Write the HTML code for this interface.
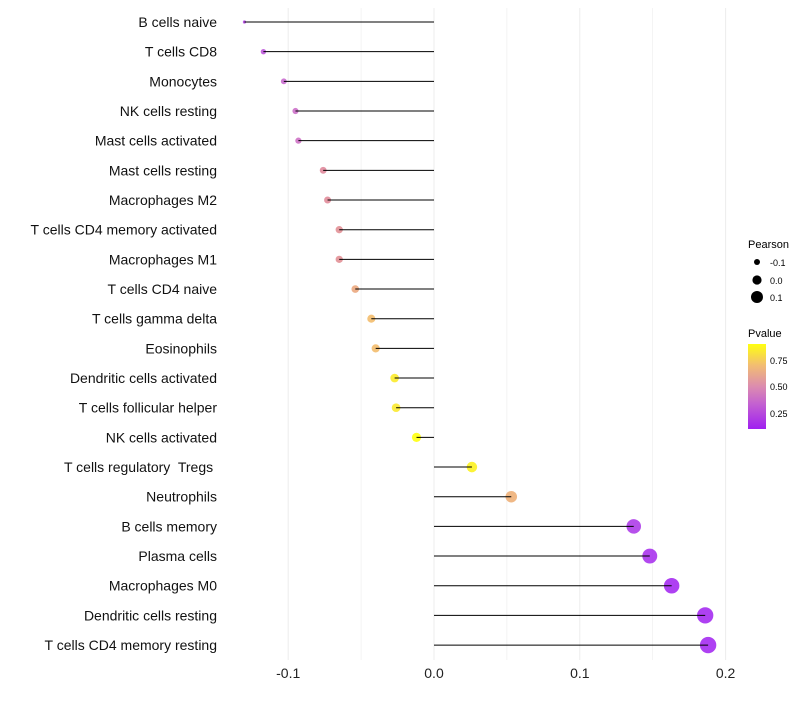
<!DOCTYPE html>
<html><head><meta charset="utf-8"><style>
body{margin:0;background:#fff;font-family:"Liberation Sans",sans-serif}
text{white-space:pre}
</style></head><body>
<svg id="chart" width="800" height="700" xmlns="http://www.w3.org/2000/svg">
<defs><linearGradient id="pg" x1="0" y1="1" x2="0" y2="0">
<stop offset="0" stop-color="#a020f0"/><stop offset="0.3" stop-color="#c462d0"/><stop offset="0.5" stop-color="#dc8caf"/><stop offset="0.75" stop-color="#f2bd72"/><stop offset="1" stop-color="#ffff10"/>
</linearGradient></defs>
<g id="grid"></g><g id="dots"></g><g id="marks"></g><g id="labels"></g>
<g font-size="10" fill="#000">
<text x="748" y="248" font-size="11">Pearson</text>
<circle cx="757" cy="262" r="3"/><text x="770" y="266" font-size="9">-0.1</text>
<circle cx="757" cy="280" r="4.6"/><text x="770" y="284" font-size="9">0.0</text>
<circle cx="757" cy="297" r="6"/><text x="770" y="301" font-size="9">0.1</text>
</g>
<g>
<text x="748" y="337" font-size="11">Pvalue</text>
<rect x="748" y="344" width="18" height="85" fill="url(#pg)"/>
<text x="770" y="364" font-size="9">0.75</text>
<text x="770" y="390" font-size="9">0.50</text>
<text x="770" y="417" font-size="9">0.25</text>
</g>
</svg>
<script>
const categories=["B cells naive","T cells CD8","Monocytes","NK cells resting","Mast cells activated","Mast cells resting","Macrophages M2","T cells CD4 memory activated","Macrophages M1","T cells CD4 naive","T cells gamma delta","Eosinophils","Dendritic cells activated","T cells follicular helper","NK cells activated","T cells regulatory  Tregs ","Neutrophils","B cells memory","Plasma cells","Macrophages M0","Dendritic cells resting","T cells CD4 memory resting"];
const pearson=[-0.130,-0.117,-0.103,-0.095,-0.093,-0.076,-0.073,-0.065,-0.065,-0.054,-0.043,-0.040,-0.027,-0.026,-0.012,0.026,0.053,0.137,0.148,0.163,0.186,0.188];
const pvalues=[0.2,0.27,0.35,0.37,0.38,0.5,0.51,0.53,0.53,0.62,0.7,0.7,0.84,0.83,0.92,0.86,0.65,0.16,0.13,0.1,0.06,0.05];
const xticks=[-0.1,0.0,0.1,0.2];
const NS="http://www.w3.org/2000/svg";
const x=v=>434+v*1458;
const y=i=>22+i*29.67;
const r=v=>v<-0.125?1.6:4.8+18*v;
const stops=[[0.1,[160,32,240]],[0.34,[196,98,208]],[0.5,[222,130,150]],[0.7,[242,185,100]],[0.9,[255,255,0]]];
function col(p){if(p<=stops[0][0])return "rgb("+stops[0][1]+")";for(let k=1;k<stops.length;k++){if(p<=stops[k][0]){const a=stops[k-1],b=stops[k],t=(p-a[0])/(b[0]-a[0]);return "rgb("+a[1].map((c,j)=>Math.round(c+(b[1][j]-c)*t)).join(",")+")";}}return "rgb("+stops[stops.length-1][1]+")";}
function mk(t,a,p){const e=document.createElementNS(NS,t);for(const k in a)e.setAttribute(k,a[k]);p.appendChild(e);return e;}
const grid=document.getElementById('grid'),marks=document.getElementById('marks'),dots=document.getElementById('dots'),labels=document.getElementById('labels');
for(let v=-0.1;v<=0.2001;v+=0.05){const g=mk('line',{x1:x(v),x2:x(v),y1:8,y2:660,stroke:'#ececec','stroke-width':Math.abs(Math.round(v*20))%2===0?1:0.6},grid);}
xticks.forEach(t=>{const e=mk('text',{x:x(t),y:678,'text-anchor':'middle','font-size':14,fill:'#222'},labels);e.textContent=t.toFixed(1);

});
categories.forEach((c,i)=>{
const d=mk('circle',{cx:x(pearson[i]),cy:y(i),r:r(pearson[i]),fill:col(pvalues[i]),'fill-opacity':0.85},dots);


const l=mk('line',{x1:x(0),x2:x(pearson[i]),y1:y(i),y2:y(i),stroke:'#000','stroke-width':1},marks);


const t=mk('text',{x:217,y:y(i)+5,'text-anchor':'end','font-size':14,fill:'#111'},labels);t.textContent=c;


});
</script>
</body></html>
